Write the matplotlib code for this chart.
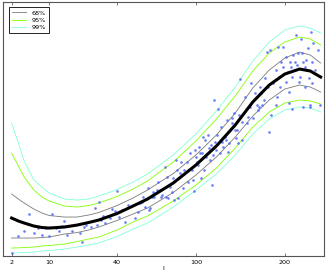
import numpy as np
import matplotlib
matplotlib.use("Agg")
import matplotlib.pyplot as plt

# ---- band curves (multipole l, band edges) ----
ell_curve = [2, 3, 4, 6, 8, 10, 15, 20, 25, 30, 40, 50, 60, 80, 100, 120, 140, 160, 180, 200, 220, 235, 250]
mean_curve = [1130, 1040, 980, 890, 845, 830, 860, 920, 995, 1070, 1265, 1490, 1700, 2180, 2720, 3290, 3920, 4610, 5120, 5450, 5600, 5540, 5360]
hi68 = [1850, 1700, 1580, 1400, 1280, 1205, 1160, 1160, 1220, 1295, 1505, 1730, 1970, 2465, 3020, 3620, 4280, 5030, 5570, 5930, 6110, 6020, 5780]
lo68 = [530, 530, 530, 530, 545, 560, 650, 695, 770, 860, 1055, 1250, 1430, 1895, 2420, 2960, 3560, 4190, 4670, 5000, 5120, 5060, 4910]
hi95 = [3080, 2690, 2360, 1970, 1760, 1640, 1490, 1460, 1505, 1580, 1775, 2000, 2240, 2810, 3440, 4100, 4790, 5540, 6080, 6410, 6560, 6500, 6320]
lo95 = [230, 235, 245, 260, 290, 305, 350, 425, 500, 560, 770, 1010, 1190, 1640, 2120, 2630, 3230, 3860, 4310, 4580, 4670, 4640, 4550]
hi99 = [3980, 3380, 2840, 2270, 2060, 1880, 1700, 1670, 1700, 1790, 1985, 2210, 2450, 3020, 3650, 4340, 5060, 5840, 6410, 6770, 6890, 6830, 6680]
lo99 = [80, 85, 95, 110, 140, 155, 200, 260, 320, 380, 575, 800, 980, 1460, 1970, 2450, 3020, 3650, 4100, 4370, 4460, 4430, 4310]

# ---- scattered points ----
ell_pts = [2, 3, 4, 5, 6, 7, 8, 9, 10, 11, 12, 13, 14, 15, 16, 18, 19, 21, 22, 23, 24, 26, 28, 29, 30, 31, 32, 33, 36, 37, 39, 40, 41, 43, 45, 47,
           50, 51, 53, 55, 56, 57, 58, 60, 61, 62, 63, 64, 65, 67, 68, 69, 70, 71, 73, 74, 75, 76, 77, 79, 80, 81, 82, 83, 84, 86, 87, 88, 89, 92, 93, 95, 96, 97, 98, 99, 101, 102, 104, 105,
           100, 103, 106, 107, 108, 109, 110, 112, 113, 114, 115, 116, 117, 118, 119, 120, 121, 122, 124, 125, 126, 127, 129, 130, 131, 132, 133, 134, 136, 137, 139, 140, 141, 142, 143, 144, 145, 147, 148, 151, 153, 154, 157, 158, 160, 163, 165, 166, 169, 171,
           215, 236, 222, 181, 191, 198, 239, 246, 232, 223, 211, 218, 202, 195, 207, 214, 225, 229, 237, 197, 208, 217, 227, 189, 204, 231, 242, 192, 209, 221, 233, 175, 201, 219, 185, 194, 228, 238, 178, 170, 190, 206, 174, 188, 205, 210, 235, 224, 168, 182, 234, 249, 180, 177]
d_pts = [81, 591, 741, 1251, 681, 831, 621, 831, 591, 1251, 831, 741, 891, 1041, 621, 741, 921, 681, 411, 861, 921, 861, 1431, 921, 1611, 1071, 1191, 981, 1131, 1401, 1341, 1941, 1161, 1371, 1011, 1521,
         1521, 1131, 1311, 1581, 1611, 1761, 1461, 2031, 1371, 1431, 1761, 1911, 1761, 1971, 2211, 1971, 1761, 1821, 2661, 1761, 2361, 1731, 2061, 1911, 2331, 1671, 2871, 2571, 1731, 2481, 2811, 2031, 2571, 2811, 2211, 3081, 2571, 2271, 1941, 3171, 2811, 2721, 3081, 2331,
         2961, 3261, 3081, 3561, 2571, 3471, 2961, 3621, 3231, 2871, 3321, 2121, 3021, 4671, 3411, 3171, 3621, 4401, 3081, 3861, 3411, 3261, 3561, 3471, 4071, 3111, 3381, 3771, 4131, 3981, 4281, 3771, 3531, 3771, 3381, 4221, 5301, 4011, 3471, 4761, 3981, 4161, 4461, 5181, 4131, 4881, 4521, 4371, 5061, 4521,
         6621, 6711, 6501, 6171, 6261, 6261, 6381, 6171, 6231, 6081, 6021, 6081, 5961, 5811, 5811, 5811, 5811, 5871, 5811, 5661, 5661, 5721, 5661, 5571, 5511, 5571, 5571, 5361, 5361, 5361, 5331, 5331, 5211, 5211, 5181, 5061, 5061, 5181, 5061, 4881, 4761, 4911, 4671, 4521, 4581, 4401, 4521, 4461, 4461, 4221, 4461, 4521, 3711, 6111]

tick_vals = [2, 10, 40, 100, 200]
tick_labels = ["2", "10", "40", "100", "200"]
band_labels = ["68%", "95%", "99%"]

fig = plt.figure(figsize=(3.27, 2.77), dpi=100)
ax = fig.add_axes([0.0083, 0.0769, 0.9826, 0.917])
ax.set_xscale('function', functions=(lambda v: np.sqrt(np.clip(v, 0, None)), np.square))

c68, c95, c99 = '#7a7a7a', '#80ff00', '#80ffd8'
lw_band = 0.6
ax.plot(ell_curve, hi99, color=c99, lw=lw_band, label=band_labels[2])
ax.plot(ell_curve, lo99, color=c99, lw=lw_band)
ax.plot(ell_curve, hi95, color=c95, lw=lw_band, label=band_labels[1])
ax.plot(ell_curve, lo95, color=c95, lw=lw_band)
ax.plot(ell_curve, hi68, color=c68, lw=lw_band, label=band_labels[0])
ax.plot(ell_curve, lo68, color=c68, lw=lw_band)
ax.plot(ell_pts, d_pts, linestyle='none', marker='o', ms=1.9, mew=0,
        color='#4f68f5', alpha=0.85)
ax.plot(ell_curve, mean_curve, color='black', lw=2.2)

ax.set_xlim(1, 255)
ax.set_ylim(0, 7620)
ax.set_xticks(tick_vals)
ax.set_xticklabels(tick_labels, fontsize=4.6)
ax.minorticks_off()
ax.set_yticks([])
ax.tick_params(axis='x', direction='in', top=True, length=2.5, width=0.5, pad=3, color='#444444')
for s in ax.spines.values():
    s.set_color('#555555')
    s.set_linewidth(0.8)
ax.set_xlabel('l', fontsize=4.6, labelpad=1)

h, l = ax.get_legend_handles_labels()
order = [2, 1, 0]
leg = ax.legend([h[i] for i in order], [l[i] for i in order], loc='upper left',
                bbox_to_anchor=(0.0205, 0.978), borderaxespad=0, fontsize=4.6,
                fancybox=False, edgecolor='black', framealpha=1, handlelength=2.2,
                handletextpad=0.9, borderpad=0.45, labelspacing=0.3)
leg.get_frame().set_linewidth(0.6)

fig.savefig('out.png', dpi=100)
